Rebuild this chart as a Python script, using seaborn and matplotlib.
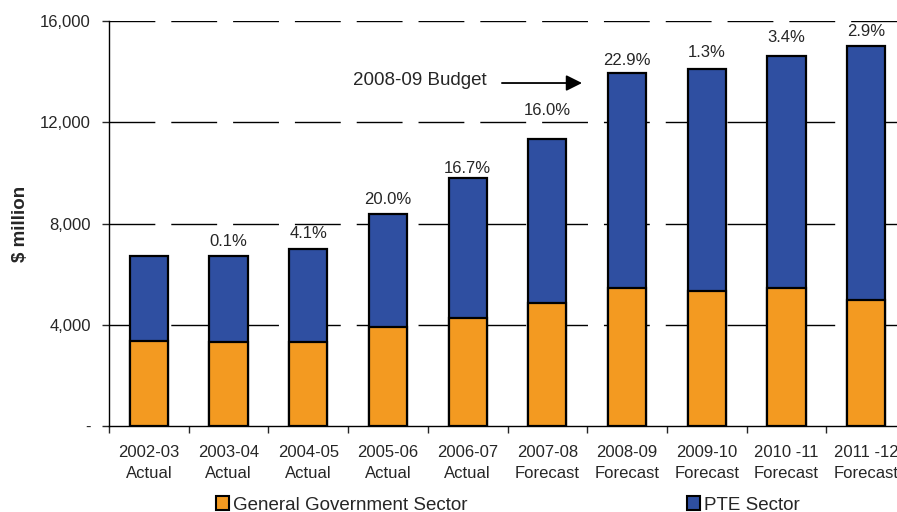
import numpy as np
import pandas as pd
import matplotlib
matplotlib.use("Agg")
import matplotlib.pyplot as plt
import seaborn as sns
from matplotlib.patches import Patch

# data ($ million)
years = ['2002-03\nActual', '2003-04\nActual', '2004-05\nActual', '2005-06\nActual',
         '2006-07\nActual', '2007-08\nForecast', '2008-09\nForecast', '2009-10\nForecast',
         '2010 -11\nForecast', '2011 -12\nForecast']
gen_gov = [3350, 3320, 3320, 3930, 4250, 4850, 5440, 5320, 5440, 4970]
pte = [3350, 3390, 3670, 4450, 5530, 6490, 8500, 8800, 9160, 10050]
growth = ['', '0.1%', '4.1%', '20.0%', '16.7%', '16.0%', '22.9%', '1.3%', '3.4%', '2.9%']
y_ticks = [0, 4000, 8000, 12000, 16000]
y_labels = ['-', '4,000', '8,000', '12,000', '16,000']

orange = '#F39A21'
blue = '#2F4FA1'

sns.set_style('white')
plt.rcParams['font.family'] = ['Liberation Sans', 'DejaVu Sans']

df = pd.DataFrame({'year': years, 'gov': gen_gov, 'pte': pte})
df['total'] = df['gov'] + df['pte']

fig = plt.figure(figsize=(8.97, 5.12), dpi=100)
ax = fig.add_axes([109 / 897, 86 / 512, 797 / 897, 405 / 512])

# dashed gridlines behind the bars
for t in y_ticks[1:]:
    ax.axhline(t, color='black', lw=1, dashes=(33, 11.5), zorder=0)

sns.barplot(data=df, x='year', y='total', color=blue, width=0.48, saturation=1,
            edgecolor='black', linewidth=1.6, ax=ax, zorder=2)
sns.barplot(data=df, x='year', y='gov', color=orange, width=0.48, saturation=1,
            edgecolor='black', linewidth=1.6, ax=ax, zorder=3)

# label gaps above bars (points), 16.0% sits higher to clear the gridline
label_pad = [5, 5, 5.7, 5, 2.1, 15, 3.6, 6.4, 7.9, 5]
for i, (tot, lab) in enumerate(zip(df['total'], growth)):
    if lab:
        ax.annotate(lab, (i, tot), xytext=(0, label_pad[i]), textcoords='offset points',
                    ha='center', va='bottom', fontsize=12)

ax.text(4.24, 13640, '2008-09 Budget', ha='right', va='center', fontsize=13.5)
ax.annotate('', xy=(5.435, 13550), xytext=(4.43, 13550),
            arrowprops=dict(arrowstyle='-|>', color='black', lw=1.3,
                            mutation_scale=24, shrinkA=0, shrinkB=0))

ax.set_xlim(-0.5, 9.5)
ax.set_ylim(0, 16000)
ax.set_yticks(y_ticks)
ax.set_yticklabels(y_labels, fontsize=12)
ax.set_xticks(range(len(years)))
ax.set_xticklabels(years, fontsize=12, linespacing=1.5)
ax.set_xticks(np.arange(-0.5, 10, 1), minor=True)
ax.tick_params(axis='x', which='major', length=0, pad=13.5)
ax.tick_params(axis='x', which='minor', length=5, width=1, direction='out', bottom=True)
ax.tick_params(axis='y', length=5, width=1, direction='out', left=True, pad=8)
ax.set_xlabel('')
ax.set_ylabel('$ million', fontsize=13.5, fontweight='bold')
ax.yaxis.set_label_coords((29 - 109) / 797, 0.5)

ax.spines['top'].set_visible(False)
ax.spines['right'].set_visible(False)
for s in ['left', 'bottom']:
    ax.spines[s].set_color('black')
    ax.spines[s].set_linewidth(1)

handles = [Patch(facecolor=orange, edgecolor='black', lw=1.5),
           Patch(facecolor=blue, edgecolor='black', lw=1.5)]
fig.legend(handles, ['General Government Sector', 'PTE Sector'], ncol=2,
           loc='center left', bbox_to_anchor=(216 / 897, 7 / 512), frameon=False,
           fontsize=13.5, handlelength=0.7, handleheight=0.7, handletextpad=0.2,
           columnspacing=11.7, borderpad=0, borderaxespad=0)

fig.savefig('out.png', dpi=100)
